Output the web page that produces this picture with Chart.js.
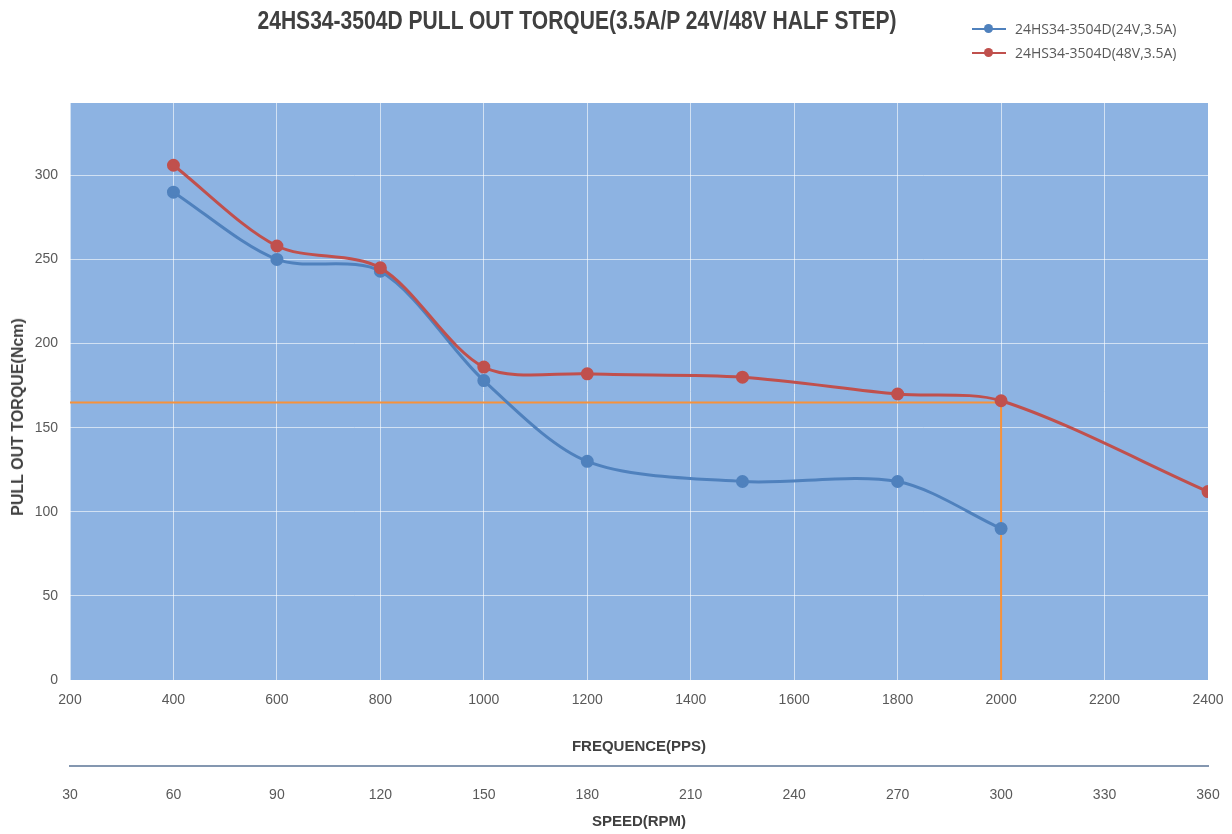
<!DOCTYPE html>
<html>
<head>
<meta charset="utf-8">
<script src="https://cdn.jsdelivr.net/npm/chart.js@4.4.1/dist/chart.umd.min.js"></script>
<style>
    body { margin: 0; background: #fff; font-family: "Liberation Sans", Arial, sans-serif; }
    #wrap { position: relative; width: 1232px; height: 834px; }
    #title { position: absolute; left: 577px; top: 20px; transform: translate(-50%, -50%) scaleX(0.81);
        font-weight: bold; font-size: 26px; color: #404040; white-space: nowrap; }
    #legend { position: absolute; left: 972px; top: 20px; font-family: "Open Sans", sans-serif;
        font-size: 14px; color: #595959; }
    .item { height: 24px; line-height: 18px; white-space: nowrap; }
    .mark { display: inline-block; position: relative; width: 34px; height: 18px; vertical-align: top; margin-right: 9px; }
    .mark i { position: absolute; left: 0; right: 0; top: 8px; height: 2px; }
    .mark b { position: absolute; left: 12px; top: 4px; width: 9px; height: 9px; border-radius: 50%; }
    #ytitle { position: absolute; left: 18px; top: 417px; transform: translate(-50%, -50%) rotate(-90deg);
        font-weight: bold; font-size: 16px; color: #404040; white-space: nowrap; }
</style>
</head>
<body>
<div id="wrap">
    <canvas id="chart"></canvas>
    <div id="title">24HS34-3504D PULL OUT TORQUE(3.5A/P 24V/48V HALF STEP)</div>
    <div id="legend">
        <div class="item"><span class="mark"><i style="background:#4F81BD"></i><b style="background:#4F81BD"></b></span>24HS34-3504D(24V,3.5A)</div>
        <div class="item"><span class="mark"><i style="background:#C0504D"></i><b style="background:#C0504D"></b></span>24HS34-3504D(48V,3.5A)</div>
    </div>
    <div id="ytitle">PULL OUT TORQUE(Ncm)</div>
</div>
<script>
// frequence (pps) / torque (Ncm)
const freq24 = [400, 600, 800, 1000, 1200, 1500, 1800, 2000]
const torque24 = [290, 250, 243, 178, 130, 118, 118, 90]
const freq48 = [400, 600, 800, 1000, 1200, 1500, 1800, 2000, 2400]
const torque48 = [306, 258, 245, 186, 182, 180, 170, 166, 112]
// orange reference line
const refFreq = [200, 2000, 2000]
const refTorque = [165, 165, 0]
const speedMin = 30, speedMax = 360, speedStep = 30

function pts(xs, ys) {
    return xs.map((x, i) => ({x: x, y: ys[i]}))
}

const plotBg = {
    id: 'plotBg',
    beforeDraw(chart) {
        const a = chart.chartArea
        const ctx = chart.ctx
        ctx.save()
        ctx.fillStyle = '#8DB3E2'
        ctx.fillRect(a.left, a.top, a.right - a.left, a.bottom - a.top)
        ctx.restore()
    }
}

const tickFont = {family: 'Liberation Sans', size: 14}
const titleFont = {family: 'Liberation Sans', size: 15, weight: 'bold'}
const plain = v => String(v)

const data = {
    datasets: [{
            label: '24HS34-3504D(48V,3.5A)',
            data: pts(freq48, torque48),
            borderColor: '#C0504D',
            backgroundColor: '#C0504D',
            borderWidth: 3,
            pointRadius: 5,
            tension: 0.3
        }, {
            label: '24HS34-3504D(24V,3.5A)',
            data: pts(freq24, torque24),
            borderColor: '#4F81BD',
            backgroundColor: '#4F81BD',
            borderWidth: 3,
            pointRadius: 5,
            tension: 0.3
        }, {
            label: 'ref',
            data: pts(refFreq, refTorque),
            borderColor: '#F7923A',
            borderWidth: 2,
            pointRadius: 0,
            tension: 0
        }]
}

const config = {
    type: 'line',
    data: data,
    plugins: [plotBg],
    options: {
        responsive: true,
        maintainAspectRatio: false,
        animation: false,
        layout: {padding: {left: 0, right: 24, top: 103, bottom: 0}},
        plugins: {legend: {display: false}, tooltip: {enabled: false}},
        scales: {
            x: {
                type: 'linear',
                position: 'bottom',
                min: 200, max: 2400,
                afterFit: s => { s.height = 86; s.paddingLeft = 0; s.paddingRight = 0 },
                grid: {color: 'rgba(255,255,255,0.6)', drawTicks: false},
                border: {display: false},
                ticks: {stepSize: 200, padding: 12, color: '#595959', font: tickFont, maxRotation: 0, callback: plain},
                title: {display: true, text: 'FREQUENCE(PPS)', color: '#404040', font: titleFont, padding: {top: 0, bottom: 10}}
            },
            x2: {
                type: 'linear',
                position: 'bottom',
                min: speedMin, max: speedMax,
                afterFit: s => { s.height = 68; s.paddingLeft = 0; s.paddingRight = 0 },
                grid: {display: false, drawTicks: false},
                border: {display: true, color: '#8497B0', width: 2},
                ticks: {stepSize: speedStep, padding: 21, color: '#595959', font: tickFont, maxRotation: 0, callback: plain},
                title: {display: true, text: 'SPEED(RPM)', color: '#404040', font: titleFont, padding: {top: 0, bottom: 3}}
            },
            y: {
                min: 0, max: 343,
                afterFit: s => { s.width = 70 },
                grid: {color: 'rgba(255,255,255,0.6)', drawTicks: false},
                border: {display: false},
                ticks: {stepSize: 50, includeBounds: false, padding: 12, color: '#595959', font: tickFont}
            }
        }
    }
}

let ctx = document.getElementById('chart').getContext('2d')

new Chart(ctx, config)
</script>
</body>
</html>
